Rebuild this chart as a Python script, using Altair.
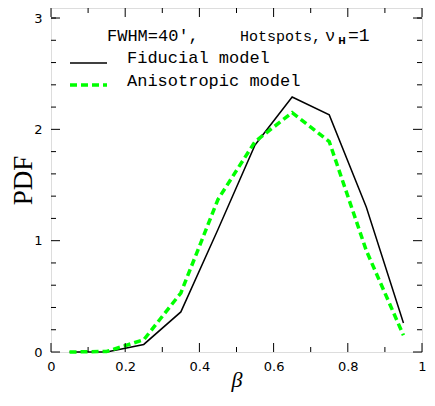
import altair as alt
import pandas as pd

beta = [0.05, 0.15, 0.25, 0.35, 0.45, 0.55, 0.65, 0.75, 0.85, 0.95]
fiducial = [0.0, 0.0, 0.068, 0.36, 1.10, 1.86, 2.29, 2.13, 1.30, 0.26]
anisotropic = [0.0, 0.005, 0.11, 0.53, 1.37, 1.89, 2.15, 1.89, 0.91, 0.15]

x_major = [0, 0.2, 0.4, 0.6, 0.8, 1.0]
x_minor = [0.1, 0.3, 0.5, 0.7, 0.9]
y_major = [0, 1, 2, 3]
y_minor = [0.2, 0.4, 0.6, 0.8, 1.2, 1.4, 1.6, 1.8, 2.2, 2.4, 2.6, 2.8, 3.0]

W, H = 371, 344
XDOM = [0, 1]
YDOM = [0, 3.09]

df = pd.DataFrame({"beta": beta, "fid": fiducial, "ani": anisotropic})

xs = alt.Scale(domain=XDOM, nice=False, zero=False)
ys = alt.Scale(domain=YDOM, nice=False, zero=False)

base = alt.Chart(df)

fid_line = base.mark_line(color="black", strokeWidth=1.5).encode(
    x=alt.X("beta:Q", scale=xs,
            axis=alt.Axis(values=x_major, format="~g", ticks=False, domain=False, grid=False,
                          labelFont="DejaVu Sans", labelFontSize=13, labelColor="black",
                          labelPadding=8, labelFlush=False, labelOverlap=False,
                          title="β", titleFont="Liberation Serif", titleFontStyle="italic",
                          titleFontWeight="normal", titleFontSize=22, titleColor="black",
                          titleY=27, titleBaseline="middle")),
    y=alt.Y("fid:Q", scale=ys,
            axis=alt.Axis(values=y_major, format="d", ticks=False, domain=False, grid=False,
                          labelFont="DejaVu Sans", labelFontSize=13, labelColor="black",
                          labelPadding=9, labelFlush=False, labelOverlap=False,
                          title="PDF", titleFont="Liberation Serif", titleFontWeight="normal",
                          titleFontSize=27, titleColor="black", titleAngle=-90,
                          titleX=-28, titleY=172, titleBaseline="middle")),
)

ani_line = base.mark_line(color="#00ff00", strokeWidth=3.5, strokeDash=[7, 4]).encode(
    x=alt.X("beta:Q", scale=xs),
    y=alt.Y("ani:Q", scale=ys),
)

def xticks(vals, length):
    d = pd.DataFrame({"v": vals})
    bottom = alt.Chart(d).mark_rule(color="black", strokeWidth=1).encode(
        x=alt.X("v:Q", scale=xs), y=alt.value(H), y2=alt.value(H - length))
    top = alt.Chart(d).mark_rule(color="black", strokeWidth=1).encode(
        x=alt.X("v:Q", scale=xs), y=alt.value(0), y2=alt.value(length))
    return [bottom, top]

def yticks(vals, length):
    d = pd.DataFrame({"v": vals})
    left = alt.Chart(d).mark_rule(color="black", strokeWidth=1).encode(
        y=alt.Y("v:Q", scale=ys), x=alt.value(0), x2=alt.value(length))
    right = alt.Chart(d).mark_rule(color="black", strokeWidth=1).encode(
        y=alt.Y("v:Q", scale=ys), x=alt.value(W), x2=alt.value(W - length))
    return [left, right]

ticks = xticks(x_major, 9) + xticks(x_minor, 5) + yticks(y_major, 9) + yticks(y_minor, 5)

def txt(s, x, y, size=17, align="left", weight="normal", font="Liberation Mono"):
    return alt.Chart(pd.DataFrame({"t": [s]})).mark_text(
        align=align, baseline="middle", font=font, fontSize=size, fontWeight=weight, color="black"
    ).encode(text="t:N", x=alt.value(x), y=alt.value(y))

header = [
    txt("FWHM=40′,", 56, 28, 17),
    txt("Hotspots,", 189, 28, 15),
    txt("ν", 274, 28, 17),
    txt("H", 291, 33, 9, align="center", weight="bold", font="DejaVu Sans"),
    txt("=1", 297, 28, 18),
]

legend_text = [
    txt("Fiducial model", 76, 50, 17),
    txt("Anisotropic model", 76, 73, 17),
]

leg_fid = alt.Chart(pd.DataFrame({"k": ["Fiducial model"]})).mark_rule(
    color="black", strokeWidth=1.5).encode(x=alt.value(19), x2=alt.value(56), y=alt.value(55))
leg_ani = alt.Chart(pd.DataFrame({"k": ["Anisotropic model"]})).mark_rule(
    color="#00ff00", strokeWidth=3.5, strokeDash=[7, 4]).encode(
    x=alt.value(19), x2=alt.value(56), y=alt.value(77))

chart = alt.layer(fid_line, ani_line, *ticks, *header, *legend_text, leg_fid, leg_ani).properties(
    width=W, height=H,
    padding={"left": 43, "top": 0, "right": 5, "bottom": 40},
    autosize=alt.AutoSizeParams(type="none"),
).configure_view(stroke="black", strokeWidth=1.8).configure(background="white")

chart.save("out.html", embed_options={"renderer": "svg", "actions": False})
